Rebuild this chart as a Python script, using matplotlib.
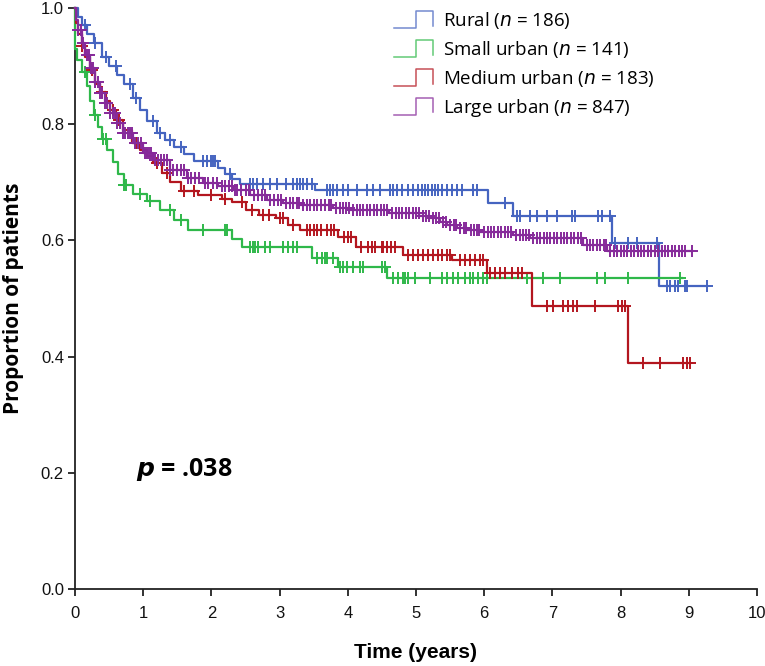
import numpy as np
import matplotlib
matplotlib.use('Agg')
import matplotlib.pyplot as plt
from matplotlib.legend_handler import HandlerBase
from matplotlib.lines import Line2D

#### DATA ####
groups = ['Rural', 'Small urban', 'Medium urban', 'Large urban']
group_n = [186, 141, 183, 847]
colors = ['#4564c0', '#2fb84a', '#b3161f', '#862a9a']

# step curves: event times (years) and survival after each event
rural_t = [0, 0.04, 0.1, 0.18, 0.28, 0.4, 0.5, 0.62, 0.72, 0.85, 0.95, 1.05, 1.2, 1.32, 1.45,
           1.6, 1.75, 2.1, 2.2, 2.3, 2.42, 3.52, 6.05, 6.42, 7.88, 8.56]
rural_s = [1.0, 0.985, 0.97, 0.955, 0.94, 0.915, 0.9, 0.885, 0.87, 0.845, 0.825, 0.805, 0.785, 0.772, 0.76,
           0.748, 0.736, 0.725, 0.715, 0.706, 0.697, 0.687, 0.664, 0.642, 0.596, 0.522]
rural_end = 9.27
rural_cens = [0.15, 0.3, 0.45, 0.6, 0.8, 0.9, 1.15, 1.25, 1.4, 1.55, 1.88, 1.94, 2.0, 2.02, 2.05, 2.27,
              2.57, 2.61, 2.67, 2.76, 2.86, 2.96, 3.1, 3.2, 3.25, 3.3, 3.34, 3.4, 3.47, 3.69, 3.74,
              3.78, 3.84, 3.93, 4.0, 4.13, 4.28, 4.37, 4.47, 4.62, 4.66, 4.72, 4.79, 4.88, 4.96, 5.03,
              5.09, 5.13, 5.18, 5.23, 5.28, 5.32, 5.38, 5.45, 5.53, 5.6, 5.67, 5.84, 5.89, 6.3, 6.48,
              6.52, 6.67, 6.77, 6.92, 7.07, 7.29, 7.33, 7.67, 7.73, 7.84, 7.92, 8.11, 8.24, 8.53,
              8.68, 8.72, 8.8, 8.84, 8.94, 8.97, 9.27]

small_t = [0, 0.005, 0.03, 0.1, 0.17, 0.22, 0.28, 0.34, 0.4, 0.47, 0.55, 0.63, 0.72, 0.85, 1.05,
           1.25, 1.45, 1.65, 2.3, 2.45, 3.47, 3.85, 4.57]
small_s = [1.0, 0.93, 0.91, 0.89, 0.865, 0.84, 0.815, 0.795, 0.775, 0.755, 0.735, 0.715, 0.695, 0.68, 0.668,
           0.652, 0.635, 0.618, 0.603, 0.589, 0.57, 0.554, 0.535]
small_end = 8.9
small_cens = [0.15, 0.29, 0.41, 0.45, 0.72, 0.75, 0.95, 1.1, 1.39, 1.55, 1.88, 2.2, 2.23, 2.57, 2.61,
              2.64, 2.68, 2.79, 2.86, 3.05, 3.12, 3.2, 3.25, 3.55, 3.62, 3.67, 3.7, 3.78, 3.89, 3.93,
              3.99, 4.08, 4.18, 4.22, 4.5, 4.55, 4.66, 4.74, 4.81, 4.84, 4.88, 4.99, 5.2, 5.38, 5.45,
              5.54, 5.62, 5.72, 5.79, 5.84, 5.91, 5.98, 6.04, 6.63, 6.86, 7.11, 7.65, 7.77, 8.11, 8.87]

medium_t = [0, 0.02, 0.05, 0.1, 0.15, 0.22, 0.29, 0.37, 0.45, 0.52, 0.6, 0.7, 0.84, 0.95, 1.05, 1.15,
            1.28, 1.4, 1.55, 1.8, 2.15, 2.3, 2.5, 2.7, 2.95, 3.12, 3.3, 3.85, 4.12, 4.81, 5.53, 6.04,
            6.7, 8.11]
medium_s = [1.0, 0.975, 0.955, 0.935, 0.915, 0.893, 0.87, 0.855, 0.84, 0.824, 0.807, 0.79, 0.768, 0.756,
            0.745, 0.733, 0.716, 0.70, 0.685, 0.678, 0.672, 0.666, 0.652, 0.644, 0.638, 0.627, 0.618,
            0.606, 0.589, 0.575, 0.566, 0.544, 0.487, 0.389]
medium_end = 9.02
medium_cens = [0.1, 0.25, 0.4, 0.55, 0.65, 0.9, 1.2, 1.35, 1.6, 1.75, 2.0, 2.2, 2.45, 2.6, 2.75, 2.85,
               3.0, 3.05, 3.2, 3.4, 3.45, 3.5, 3.55, 3.6, 3.7, 3.75, 3.8, 3.95, 4.0, 4.05, 4.2, 4.3,
               4.35, 4.4, 4.5, 4.52, 4.57, 4.64, 4.69, 4.88, 4.96, 5.03, 5.1, 5.18, 5.25, 5.32, 5.38,
               5.45, 5.5, 5.65, 5.72, 5.79, 5.87, 5.94, 5.98, 6.09, 6.16, 6.23, 6.3, 6.41, 6.5, 6.55,
               6.92, 7.01, 7.16, 7.23, 7.3, 7.36, 7.62, 7.96, 8.02, 8.06, 8.33, 8.58, 8.91, 8.97, 9.02]

large_t = [0, 0.02, 0.05, 0.1, 0.15, 0.22, 0.29, 0.37, 0.44, 0.51, 0.61, 0.7, 0.85, 1.0, 1.14, 1.39,
           1.64, 1.88, 2.1, 2.32, 2.57, 2.81, 3.05, 3.3, 3.78, 4.03, 4.6, 5.05, 5.2, 5.35, 5.45, 5.6,
           5.75, 5.94, 6.42, 6.67, 7.45, 7.8]
large_s = [1.0, 0.98, 0.962, 0.94, 0.919, 0.897, 0.873, 0.854, 0.836, 0.819, 0.802, 0.785, 0.768, 0.75,
           0.738, 0.721, 0.707, 0.699, 0.693, 0.687, 0.678, 0.67, 0.665, 0.661, 0.656, 0.652, 0.647,
           0.642, 0.638, 0.632, 0.627, 0.622, 0.618, 0.614, 0.609, 0.604, 0.592, 0.582]
large_end = 9.05
large_cens = [0.05, 0.09, 0.12, 0.17, 0.2, 0.24, 0.26, 0.3, 0.33, 0.37, 0.4, 0.44, 0.47, 0.51, 0.55,
              0.58, 0.62, 0.66, 0.7, 0.74, 0.77, 0.8, 0.84, 0.88, 0.93, 0.97, 1.02, 1.05, 1.08, 1.12,
              1.17, 1.22, 1.26, 1.3, 1.35, 1.4, 1.44, 1.5, 1.56, 1.6, 1.66, 1.7, 1.76, 1.82, 1.9,
              1.95, 2.02, 2.08, 2.15, 2.2, 2.26, 2.3, 2.35, 2.38, 2.44, 2.5, 2.55, 2.62, 2.68, 2.74,
              2.79, 2.86, 2.92, 2.98, 3.02, 3.1, 3.15, 3.2, 3.25, 3.29, 3.35, 3.4, 3.45, 3.5, 3.55,
              3.6, 3.66, 3.72, 3.76, 3.83, 3.88, 3.93, 3.98, 4.02, 4.08, 4.13, 4.18, 4.23, 4.28, 4.33,
              4.38, 4.43, 4.48, 4.53, 4.58, 4.65, 4.7, 4.75, 4.8, 4.85, 4.9, 4.95, 5.0, 5.04, 5.1,
              5.15, 5.19, 5.25, 5.3, 5.34, 5.4, 5.44, 5.5, 5.55, 5.59, 5.65, 5.7, 5.74, 5.8, 5.85,
              5.9, 5.93, 6.0, 6.05, 6.1, 6.15, 6.2, 6.25, 6.3, 6.35, 6.4, 6.47, 6.52, 6.57, 6.62,
              6.66, 6.72, 6.77, 6.82, 6.87, 6.92, 6.97, 7.02, 7.07, 7.12, 7.17, 7.22, 7.27, 7.32,
              7.38, 7.42, 7.5, 7.55, 7.6, 7.65, 7.7, 7.75, 7.79, 7.85, 7.9, 7.95, 8.0, 8.05, 8.1,
              8.15, 8.2, 8.25, 8.3, 8.35, 8.4, 8.45, 8.5, 8.55, 8.6, 8.65, 8.7, 8.75, 8.8, 8.85,
              8.9, 8.95, 9.05]

p_text = '.038'


class StepHandler(HandlerBase):
    # little step icon like the SPSS legend
    def create_artists(self, legend, orig_handle, xdescent, ydescent, width, height, fontsize, trans):
        x0 = -xdescent
        y0 = -ydescent - 0.15 * height
        h = height * 1.3
        xs = [x0, x0 + width * 0.55, x0 + width * 0.55, x0 + width, x0 + width]
        ys = [y0, y0, y0 + h, y0 + h, y0 + 0.15 * h]
        ln = Line2D(xs, ys, color=orig_handle.get_color(), lw=1.1, alpha=0.75, transform=trans)
        return [ln]


def stepValue(times, surv, t):
    idx = np.searchsorted(times, t, side='right') - 1
    return np.asarray(surv)[idx]


def plotGroup(ax, times, surv, end, cens, color):
    xs = list(times) + [end]
    ys = list(surv) + [surv[-1]]
    ax.step(xs, ys, where='post', color=color, lw=1.6, clip_on=False, zorder=3)
    cy = stepValue(times, surv, np.array(cens))
    ax.plot(cens, cy, ls='none', marker='+', ms=8, mew=1.4, color=color, clip_on=False, zorder=3)


#### MAIN ####
dpi = 100
fig = plt.figure(figsize=(765 / dpi, 666 / dpi), dpi=dpi)
ax = fig.add_axes([75 / 765, 1 - 589 / 666, 682 / 765, 581 / 666])

series = [(rural_t, rural_s, rural_end, rural_cens),
          (small_t, small_s, small_end, small_cens),
          (medium_t, medium_s, medium_end, medium_cens),
          (large_t, large_s, large_end, large_cens)]
handles = []
for (t, s, e, c), col, name, n in zip(series, colors, groups, group_n):
    plotGroup(ax, t, s, e, c, col)
    handles.append(Line2D([], [], color=col, label=name + ' ($n$ = %d)' % n))

ax.set_xlim(0, 10)
ax.set_ylim(0, 1.0)
ax.set_xticks(range(0, 11))
ax.set_yticks([0, 0.2, 0.4, 0.6, 0.8, 1.0])
ax.set_yticklabels(['%.1f' % v for v in [0, 0.2, 0.4, 0.6, 0.8, 1.0]])
for sp in ['top', 'right']:
    ax.spines[sp].set_visible(False)
for sp in ['left', 'bottom']:
    ax.spines[sp].set_linewidth(1.3)
    ax.spines[sp].set_color('#222222')
ax.tick_params(direction='out', length=5, width=1.3, color='#222222', labelsize=12,
               labelcolor='#111111', pad=3)
ax.tick_params(axis='x', pad=7)
for lab in ax.get_xticklabels() + ax.get_yticklabels():
    lab.set_family(['Liberation Sans', 'DejaVu Sans'])

ax.set_xlabel('Time (years)', fontsize=15, fontweight='bold',
              family=['Liberation Sans', 'DejaVu Sans'], labelpad=16)
ax.set_ylabel('Proportion of patients', fontsize=15, fontweight='bold', family=['Open Sans', 'DejaVu Sans'],
              labelpad=12)

ax.text(0.9, 0.205, r'$\mathbfit{p}$ = ' + p_text, fontsize=18, fontweight='bold', va='center', ha='left',
        family=['Open Sans', 'DejaVu Sans'], math_fontfamily='dejavusans')

leg = ax.legend(handles=handles, handler_map={Line2D: StepHandler()}, loc='upper left',
                bbox_to_anchor=(302 / 682, 1.025), frameon=False, handlelength=2.1, handletextpad=0.5,
                labelspacing=0.42, prop={'family': ['Open Sans', 'DejaVu Sans'], 'size': 13.5})

plt.savefig('out.png', dpi=dpi)
